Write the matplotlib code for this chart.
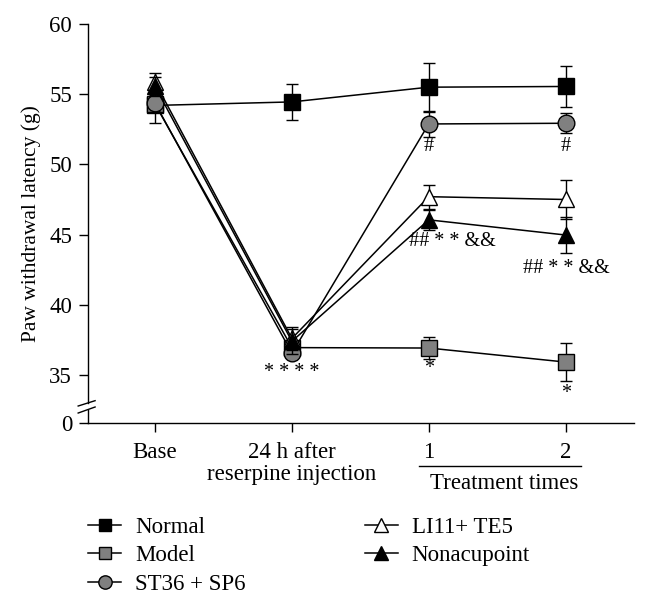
import matplotlib
matplotlib.use("Agg")
import matplotlib.pyplot as plt
from matplotlib.lines import Line2D

plt.rcParams['font.family'] = ['Liberation Serif', 'DejaVu Serif']

# data
x_labels = ["Base", "24 h after\nreserpine injection", "1", "2"]
normal = [54.2, 54.45, 55.5, 55.55]
normal_err = [1.25, 1.3, 1.75, 1.45]
model = [54.3, 36.95, 36.92, 35.92]
model_err = [0.6, 0.5, 0.8, 1.35]
st36 = [54.35, 36.55, 52.88, 52.93]
st36_err = [0.6, 0.3, 0.9, 0.7]
li11 = [55.85, 37.6, 47.7, 47.5]
li11_err = [0.65, 0.8, 0.85, 1.4]
nona = [55.55, 37.4, 46.05, 44.97]
nona_err = [0.7, 0.9, 0.7, 1.3]

y_ticks = [31.58, 35, 40, 45, 50, 55, 60]
y_ticklabels = ["0", "35", "40", "45", "50", "55", "60"]

# significance marks: text, x, y
marks = [("* * * *", 1, 35.2), ("#", 2, 51.3), ("#", 3, 51.3),
         ("## * * &&", 2.175, 44.5), ("## * * &&", 3.005, 42.6),
         ("*", 2, 35.45), ("*", 3, 33.7)]

x = list(range(len(x_labels)))

fig = plt.figure(figsize=(6.48, 6.01), dpi=100)
ax = fig.add_axes([88/648, 1-423/601, (634-88)/648, 399/601])

series = [
    (normal, normal_err, "s", "black", 11, "Normal"),
    (model, model_err, "s", "#808080", 11, "Model"),
    (st36, st36_err, "o", "#808080", 12, "ST36 + SP6"),
    (li11, li11_err, "^", "white", 12, "LI11+ TE5"),
    (nona, nona_err, "^", "black", 12, "Nonacupoint"),
]
handles = {}
for i, (vals, err, m, fc, ms, name) in enumerate(series):
    ax.errorbar(x, vals, yerr=err, color="black", lw=1.1, marker=m, ms=ms,
                mfc=fc, mec="black", mew=1.0, capsize=4, capthick=1.0,
                elinewidth=1.0, zorder=3 + i)
    handles[name] = Line2D([], [], color="black", lw=1.1, marker=m, ms=ms * 0.8,
                           mfc=fc, mec="black", mew=1.0)

for txt, tx, ty in marks:
    ax.text(tx, ty, txt, ha="center", va="center", fontsize=14.5)

ax.set_xlim(-0.49, 3.5)
ax.set_ylim(31.58, 60)
ax.set_xticks(x)
ax.set_xticklabels(x_labels, linespacing=1.05)
ax.set_yticks(y_ticks)
ax.set_yticklabels(y_ticklabels)
ax.tick_params(axis="both", direction="out", length=6.5, width=1.0, labelsize=16.5, pad=5)
ax.tick_params(axis="x", pad=7)
ax.set_ylabel("Paw withdrawal latency (g)", fontsize=15.5, labelpad=6)

for s in ["top", "right", "left"]:
    ax.spines[s].set_visible(False)
ax.spines["bottom"].set_linewidth(1.0)

# broken y axis
yt = ax.get_yaxis_transform()
ax.plot([0, 0], [33.0, 60], color="black", lw=1.0, transform=yt, clip_on=False)
ax.plot([0, 0], [31.58, 32.5], color="black", lw=1.0, transform=yt, clip_on=False)
ax.plot([-0.018, 0.013], [32.79, 33.17], color="black", lw=1.0, transform=yt, clip_on=False)
ax.plot([-0.018, 0.013], [32.29, 32.72], color="black", lw=1.0, transform=yt, clip_on=False)

# treatment times bracket
xt = ax.get_xaxis_transform()
ax.plot([1.927, 3.11], [-0.107, -0.107], color="black", lw=1.0, transform=xt, clip_on=False)
ax.text(2.55, -0.152, "Treatment times", ha="center", va="center",
        fontsize=16.5, transform=xt)

order = ["Normal", "Model", "ST36 + SP6", "LI11+ TE5", "Nonacupoint"]
fig.legend([handles[n] for n in order], order, ncol=2, frameon=False,
           loc="upper left", bbox_to_anchor=(88/648, 1 - 517/601),
           fontsize=16.5, handlelength=1.45, handletextpad=0.6,
           labelspacing=0.32, columnspacing=5.2, borderpad=0, borderaxespad=0)

fig.savefig("out.png", dpi=100)
